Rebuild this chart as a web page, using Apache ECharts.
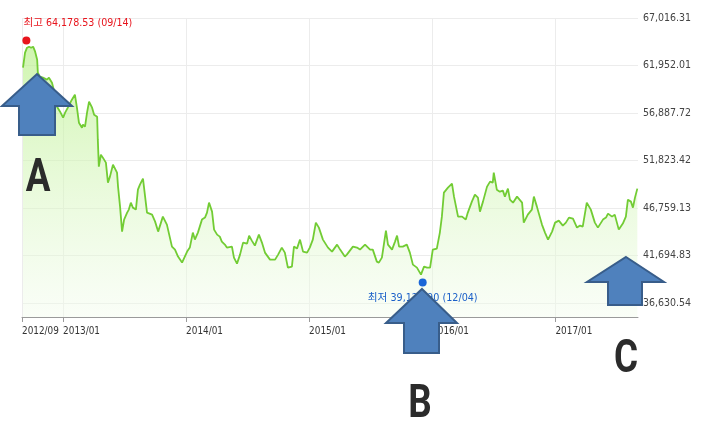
<!DOCTYPE html>
<html>
<head>
<meta charset="utf-8">
<script src="https://cdn.jsdelivr.net/npm/echarts@6/dist/echarts.min.js"></script>
<style>html,body{margin:0;padding:0;background:#fff;}#c{width:720px;height:448px;}</style>
</head>
<body>
<div id="c"></div>
<script>
// ---- data ----
const dates = [
'2012-09-04','2012-09-10','2012-09-16','2012-09-22','2012-09-28','2012-10-04','2012-10-10','2012-10-16','2012-10-18','2012-10-24',
'2012-11-02','2012-11-14','2012-11-20','2012-11-29','2012-12-08','2012-12-14','2012-12-23','2013-01-01','2013-01-07','2013-01-15',
'2013-01-27','2013-02-05','2013-02-11','2013-02-17','2013-02-26','2013-03-01','2013-03-07','2013-03-13','2013-03-19','2013-03-28',
'2013-04-03','2013-04-12','2013-04-14','2013-04-17','2013-04-23','2013-04-29','2013-05-08','2013-05-14','2013-05-20','2013-05-29',
'2013-06-10','2013-06-13','2013-06-19','2013-06-25','2013-07-01','2013-07-10','2013-07-15','2013-07-21','2013-07-27','2013-08-05',
'2013-08-11','2013-08-17','2013-08-26','2013-09-07','2013-09-22','2013-10-01','2013-10-10','2013-10-24','2013-11-05','2013-11-20',
'2013-11-29','2013-12-08','2013-12-20','2014-01-04','2014-01-12','2014-01-21','2014-01-27','2014-02-05','2014-02-17','2014-02-26',
'2014-03-04','2014-03-10','2014-03-19','2014-03-25','2014-04-03','2014-04-11','2014-04-17','2014-04-26','2014-05-02','2014-05-17',
'2014-05-23','2014-06-01','2014-06-10','2014-06-19','2014-07-01','2014-07-07','2014-07-15','2014-07-24','2014-08-05','2014-08-14',
'2014-08-23','2014-09-07','2014-09-22','2014-10-01','2014-10-12','2014-10-21','2014-10-30','2014-11-11','2014-11-17','2014-11-26',
'2014-12-05','2014-12-14','2014-12-26','2015-01-03','2015-01-12','2015-01-21','2015-01-30','2015-02-11','2015-02-26','2015-03-10',
'2015-03-25','2015-04-03','2015-04-17','2015-04-23','2015-05-11','2015-05-23','2015-06-01','2015-06-16','2015-07-01','2015-07-09',
'2015-07-21','2015-07-27','2015-08-05','2015-08-17','2015-08-23','2015-09-04','2015-09-13','2015-09-19','2015-09-25','2015-10-06',
'2015-10-18','2015-10-27','2015-11-05','2015-11-17','2015-11-29','2015-12-08','2015-12-17','2015-12-26','2016-01-03','2016-01-15',
'2016-01-24','2016-01-30','2016-02-05','2016-02-17','2016-02-29','2016-03-06','2016-03-18','2016-03-30','2016-04-10','2016-04-16',
'2016-04-28','2016-05-07','2016-05-16','2016-05-22','2016-05-31','2016-06-12','2016-06-21','2016-06-29','2016-07-02','2016-07-11',
'2016-07-20','2016-07-29','2016-08-04','2016-08-13','2016-08-19','2016-08-28','2016-09-09','2016-09-24','2016-09-29','2016-10-11',
'2016-10-23','2016-10-29','2016-11-07','2016-11-22','2016-12-01','2016-12-10','2016-12-22','2016-12-31','2017-01-11','2017-01-23',
'2017-02-01','2017-02-10','2017-02-22','2017-03-06','2017-03-15','2017-03-23','2017-04-04','2017-04-16','2017-04-28','2017-05-07',
'2017-05-22','2017-05-31','2017-06-06','2017-06-18','2017-06-26','2017-07-08','2017-07-20','2017-07-29','2017-08-04','2017-08-13',
'2017-08-19','2017-08-25','2017-09-01'
];
const values = [
61718,63317,63850,63957,63850,63957,63424,62571,61185,60759,
60652,60439,60652,60119,58840,57561,57028,56388,56921,57454,
58307,58840,57454,55855,55322,55642,55429,56921,58094,57454,
56708,56495,54043,51165,52444,52124,51591,49459,50099,51378,
50525,49033,46901,44236,45515,46261,46581,47327,46794,46581,
48713,49246,49886,46261,46048,45302,44236,45834,44982,42637,
42317,41571,40931,42104,42530,44129,43383,44129,45515,45728,
46261,47327,46368,44449,43916,43703,43170,42850,42530,42637,
41464,40825,41784,43063,42957,43809,43277,42743,43916,43063,
41997,41251,41251,41784,42530,41997,40398,40505,42637,42424,
43383,42104,41997,42530,43383,45195,44662,43383,42530,42104,
42850,42317,41571,41784,42637,42530,42317,42850,42317,42317,
41038,40931,41464,44342,42850,42317,43170,43809,42637,42637,
42850,41997,40718,40398,39652,40505,40398,40398,42317,42424,
44129,45834,48393,48926,49352,47967,45834,45834,45515,46261,
47434,48180,47860,46368,47434,49033,49566,49459,50525,48713,
48500,48607,47967,48820,47647,47327,47967,47327,45195,46048,
46581,47967,46901,44982,44129,43383,44236,45195,45409,44876,
45195,45728,45622,44662,44876,44769,47327,46581,45195,44662,
45515,45728,46155,45834,46048,44449,45089,45834,47647,47434,
46794,47860,48820
];
const yTicks = [36630.54, 41694.83, 46759.13, 51823.42, 56887.72, 61952.01, 67016.31];
const xTicks = ['2012-09-01','2013-01-01','2014-01-01','2015-01-01','2016-01-01','2017-01-01'];
const xRange = ['2012-09-01', '2017-09-03'];
const highPoint = { date: '2012-09-14', value: 64178.53, label: '최고 64,178.53 (09/14)' };
const lowPoint = { date: '2015-12-04', value: 39128.90, label: '최저 39,128.90 (12/04)' };
const letters = ['A', 'B', 'C'];

// ---- font selection (narrow font if installed) ----
const mctx = document.createElement('canvas').getContext('2d');
function mw(font, s) { mctx.font = font; return mctx.measureText(s).width; }
function hasFamily(fam) {
  const s = 'abcdefghij 0123456789 ,./';
  return mw("40px " + fam + ", monospace", s) !== mw("40px monospace", s) ||
         mw("40px " + fam + ", serif", s) !== mw("40px serif", s);
}
let TXT = { style: 'normal', family: "Roboto, 'Noto Sans CJK KR', sans-serif" };
const narrowCands = ["'Liberation Sans Narrow'", "'Arial Narrow'", "'DejaVu Sans Condensed'", "'Roboto Condensed'", "'Open Sans Condensed'"];
let found = false;
for (const f of narrowCands) {
  if (hasFamily(f)) { TXT = { style: 'normal', family: f + ", 'Noto Sans CJK KR', sans-serif" }; found = true; break; }
}
if (!found) {
  const n = mw("40px 'DejaVu Sans'", '67,016.31');
  const c = mw("condensed 40px 'DejaVu Sans'", '67,016.31');
  if (c < n - 1) TXT = { style: 'condensed', family: "'DejaVu Sans', 'Noto Sans CJK KR', sans-serif" };
}
function fontStr(size, s) { return (TXT.style === 'normal' ? '' : TXT.style + ' ') + size + 'px ' + TXT.family; }
function fitSize(s, target, maxSize) {
  const w = mw(fontStr(20, s), s);
  return Math.min(maxSize, Math.round(20 * target / w * 10) / 10);
}
const ySize = fitSize('67,016.31', 48, 14);
const xSize = fitSize('2014/01', 37, 14);
const hiSize = fitSize(highPoint.label, 109, 14);
const loSize = fitSize(lowPoint.label, 110, 14);

// ---- chart ----
function fmtNum(v) {
  const s = v.toFixed(2);
  const parts = s.split('.');
  return parts[0].replace(/\B(?=(\d{3})+(?!\d))/g, ',') + '.' + parts[1];
}
function pad(n){ return n < 10 ? '0' + n : '' + n; }
function ts(d){ return +echarts.time.parse(d); }
const seriesData = dates.map((d, i) => [ts(d), values[i]]);
const xTickTs = xTicks.map(ts);

const chart = echarts.init(document.getElementById('c'), null, { renderer: 'canvas' });

const arrowStyle = { fill: '#4f81bd', stroke: '#385d8a', lineWidth: 2 };
function arrow(apexX, apexY, headL, headR, baseY, shaftL, shaftR, bottomY) {
  return {
    type: 'polygon', z: 100,
    shape: { points: [[apexX, apexY], [headR, baseY], [shaftR, baseY], [shaftR, bottomY], [shaftL, bottomY], [shaftL, baseY], [headL, baseY]] },
    style: arrowStyle
  };
}
function letter(t, x, y) {
  return { type: 'text', z: 101, x: x, y: y, scaleX: 0.8, style: { text: t, fill: '#2b2b2b', font: "bold 46px Roboto, sans-serif", textAlign: 'center', textVerticalAlign: 'middle' } };
}
const styleKey = TXT.style === 'normal' ? undefined : TXT.style;

chart.setOption({
  animation: false,
  backgroundColor: '#ffffff',
  grid: { left: 22, right: 82, top: 18, bottom: 131, outerBoundsMode: 'none', containLabel: false },
  xAxis: {
    type: 'value',
    min: ts(xRange[0]),
    max: ts(xRange[1]),
    axisLine: { show: true, onZero: false, lineStyle: { color: '#9a9a9a', width: 1 } },
    axisTick: { show: true, length: 5, lineStyle: { color: '#9a9a9a' }, customValues: xTickTs },
    axisLabel: {
      customValues: xTickTs,
      hideOverlap: false,
      showMinLabel: true,
      align: 'left',
      margin: 9,
      color: '#333',
      fontSize: xSize,
      fontStyle: styleKey,
      fontFamily: TXT.family,
      formatter: function (v) { const d = new Date(v); return d.getFullYear() + '/' + pad(d.getMonth() + 1); }
    },
    splitLine: { show: true, lineStyle: { color: '#ececec', width: 1 } }
  },
  yAxis: {
    type: 'value',
    position: 'right',
    min: 35130,
    max: 67016.31,
    axisLine: { show: false },
    axisTick: { show: false, customValues: yTicks },
    axisLabel: {
      customValues: yTicks,
      margin: 5,
      color: '#444',
      fontSize: ySize,
      fontStyle: styleKey,
      fontFamily: TXT.family,
      formatter: function (v) { return fmtNum(v); }
    },
    splitLine: { show: true, lineStyle: { color: '#ececec', width: 1 } }
  },
  series: [{
    type: 'line',
    data: seriesData,
    showSymbol: false,
    symbol: 'none',
    lineStyle: { color: '#72cc34', width: 1.8 },
    areaStyle: {
      color: new echarts.graphic.LinearGradient(0, 0, 0, 1, [
        { offset: 0, color: 'rgba(184,240,136,0.95)' },
        { offset: 1, color: 'rgba(242,252,236,0.6)' }
      ])
    },
    markPoint: {
      symbol: 'circle',
      animation: false,
      data: [
        {
          coord: [ts(highPoint.date), highPoint.value],
          symbolSize: 8,
          symbolOffset: [0, -4],
          itemStyle: { color: '#e8141c' },
          label: { show: true, position: [1, -19], formatter: highPoint.label, color: '#e8141c', fontSize: hiSize, fontStyle: styleKey, fontFamily: TXT.family }
        },
        {
          coord: [ts(lowPoint.date), lowPoint.value],
          symbolSize: 8,
          symbolOffset: [0, 3],
          itemStyle: { color: '#1a66d8' },
          label: { show: true, position: 'bottom', distance: 6, formatter: lowPoint.label, color: '#1a5fc8', fontSize: loSize, fontStyle: styleKey, fontFamily: TXT.family }
        }
      ]
    }
  }],
  graphic: [
    arrow(37, 74, 2, 72, 106, 19, 55, 135),
    arrow(422, 289, 386, 457, 323, 404, 439, 353),
    arrow(626, 257, 587, 664, 282, 608, 642, 305),
    letter(letters[0], 38, 179),
    letter(letters[1], 420, 405),
    letter(letters[2], 626, 360)
  ]
});
</script>
</body>
</html>
